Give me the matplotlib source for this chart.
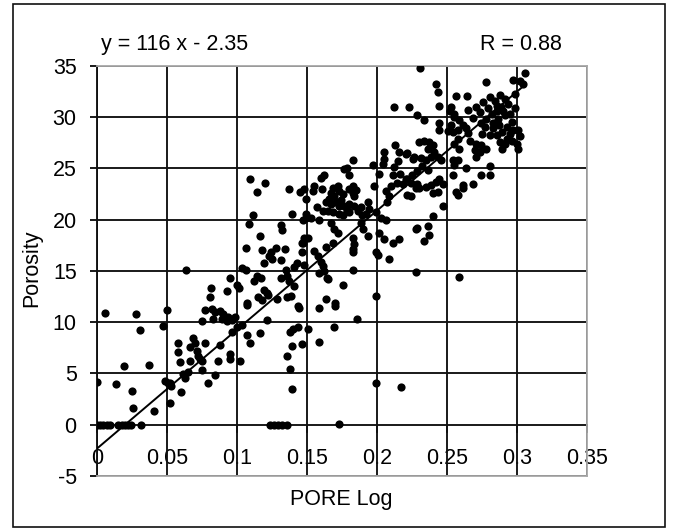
import numpy as np
import matplotlib
matplotlib.use("Agg")
import matplotlib.pyplot as plt
from matplotlib.patches import Rectangle

plt.rcParams['font.family'] = ['Liberation Sans', 'DejaVu Sans']
plt.rcParams['axes.unicode_minus'] = False

# ---------------- data ----------------
x_ticks = [0, 0.05, 0.1, 0.15, 0.2, 0.25, 0.3, 0.35]
x_tick_labels = ['0', '0.05', '0.1', '0.15', '0.2', '0.25', '0.3', '0.35']
y_ticks = [-5, 0, 5, 10, 15, 20, 25, 30, 35]
slope = 116
intercept = -2.35
r_value = 0.88
fit_x = [0.0, 0.305]

pts_left = [(0.000, 4.15), (0.000, 0), (0.0024, 0), (0.0048, 0), (0.0071, 0), (0.0095, 0),
            (0.006, 10.9), (0.0136, 4.0), (0.0155, 0), (0.0179, 0), (0.0202, 0), (0.0226, 0),
            (0.0245, 0), (0.0198, 5.7), (0.0255, 3.3), (0.0262, 1.6), (0.0278, 10.8), (0.031, 9.2),
            (0.0317, 0), (0.0374, 5.8), (0.0412, 1.3), (0.0476, 9.6), (0.05, 11.2), (0.0488, 4.3),
            (0.0512, 4.1), (0.053, 3.8), (0.0526, 2.1), (0.0524, 4.1), (0.0583, 8.0), (0.0583, 7.05),
            (0.0595, 6.1), (0.0602, 3.2)]

pts_low = [(0.0636, 15.05), (0.0619, 4.9), (0.0655, 5.1), (0.0631, 4.6), (0.0667, 6.2), (0.069, 8.5),
           (0.0702, 8.0), (0.0667, 7.55), (0.0714, 7.2), (0.0726, 6.7), (0.0738, 6.4), (0.075, 6.2),
           (0.0774, 8.0), (0.075, 5.3), (0.0845, 4.8), (0.0798, 4.1), (0.075, 10.1), (0.0774, 11.2),
           (0.0822, 11.3), (0.0845, 11.0), (0.0881, 11.1), (0.0905, 10.8), (0.094, 10.5), (0.0964, 10.2),
           (0.0833, 10.3), (0.0893, 10.3), (0.0929, 10.15), (0.0988, 10.5), (0.081, 12.45), (0.0819, 13.3),
           (0.0933, 13.0), (0.0952, 14.3), (0.0869, 6.2), (0.0952, 6.9), (0.0952, 6.4), (0.1024, 6.2),
           (0.088, 7.8), (0.0964, 9.0), (0.1, 9.5), (0.1036, 9.7), (0.1, 13.6), (0.1017, 13.3)]

pts_mid_low = [(0.1071, 11.9), (0.1155, 12.45), (0.1226, 12.6), (0.1357, 12.45), (0.144, 11.6),
               (0.1214, 10.2), (0.1071, 8.7), (0.1095, 8.0), (0.1167, 8.9), (0.1381, 9.0), (0.1405, 9.35),
               (0.144, 9.5), (0.1393, 7.7), (0.1464, 7.9), (0.1357, 6.7), (0.1381, 5.4), (0.1393, 3.5),
               (0.1238, 0), (0.1268, 0), (0.1298, 0), (0.1327, 0), (0.1357, 0), (0.1041, 15.3),
               (0.1064, 15.1), (0.1148, 14.5), (0.1171, 14.3), (0.1124, 14.0), (0.1195, 13.15),
               (0.1219, 12.8), (0.1183, 12.2), (0.129, 12.3), (0.1076, 11.7), (0.1445, 11.4), (0.135, 15.1),
               (0.1362, 14.5), (0.1374, 14.0), (0.1314, 14.3), (0.1409, 13.5), (0.1386, 12.5),
               (0.1409, 15.4), (0.1433, 15.8), (0.1195, 15.8), (0.1512, 9.35), (0.1483, 15.6)]

pts_mid_high = [(0.1095, 23.95), (0.12, 23.6), (0.1148, 22.7), (0.1374, 23.0), (0.1452, 22.7),
                (0.1493, 22.05), (0.1397, 20.5), (0.1493, 20.2), (0.1119, 20.4), (0.1088, 19.6),
                (0.1314, 19.5), (0.1326, 19.0), (0.1164, 18.4), (0.1481, 18.2), (0.1469, 17.7),
                (0.1064, 17.25), (0.1183, 17.0), (0.1243, 16.8), (0.1279, 17.25), (0.1343, 17.15),
                (0.1255, 16.2), (0.1314, 16.1), (0.1231, 16.4), (0.1464, 16.8), (0.1471, 20.0),
                (0.1495, 20.5), (0.1483, 23.0), (0.1507, 18.2), (0.1471, 17.7)]

pts_center = [(0.1531, 20.2), (0.159, 20.0), (0.1602, 24.1), (0.1626, 24.3), (0.1555, 23.3), (0.1543, 22.8),
              (0.1686, 23.1), (0.1721, 23.3), (0.1733, 22.8), (0.1757, 22.5), (0.1698, 22.3), (0.1674, 22.6),
              (0.1828, 23.3), (0.1828, 22.6), (0.184, 22.3), (0.1983, 23.3), (0.1828, 25.85), (0.1769, 24.9),
              (0.1805, 24.3), (0.2019, 24.45), (0.1971, 25.3), (0.1638, 21.7), (0.1674, 21.5), (0.1709, 21.7),
              (0.1733, 21.3), (0.1769, 21.3), (0.1805, 21.5), (0.184, 21.3), (0.1864, 20.8), (0.1888, 21.2),
              (0.1936, 21.7), (0.1947, 21.0), (0.1614, 20.85), (0.165, 20.85), (0.1686, 20.7), (0.1733, 20.5),
              (0.1757, 20.4), (0.1805, 20.7), (0.1898, 20.4), (0.1924, 20.5), (0.1995, 20.7), (0.1888, 19.7),
              (0.19, 19.05), (0.1674, 19.7), (0.1698, 19.05), (0.1721, 18.7), (0.1828, 18.2), (0.184, 17.6),
              (0.1828, 17.1), (0.1936, 18.4), (0.1686, 17.7), (0.164, 17.3), (0.1555, 16.9), (0.1579, 16.4),
              (0.1602, 15.9), (0.1614, 15.5), (0.1626, 15.0), (0.165, 14.2), (0.1828, 16.8), (0.1828, 15.1),
              (0.1757, 13.65), (0.1638, 12.3), (0.1585, 14.8), (0.1645, 14.3), (0.1585, 11.4), (0.1705, 11.9),
              (0.1705, 11.6), (0.1862, 10.3), (0.1995, 12.5), (0.1995, 16.8), (0.1693, 9.5), (0.1585, 8.1),
              (0.1995, 4.1), (0.173, 0.1), (0.1785, 25.0), (0.18, 23.0), (0.1662, 22.0), (0.1745, 21.9),
              (0.1785, 20.9), (0.1852, 22.9), (0.1572, 21.2), (0.1612, 23.0)]

pts_upper = [(0.2031, 20.2), (0.2067, 20.0), (0.2019, 18.7), (0.2055, 18.1), (0.2114, 17.7), (0.2162, 18.1),
             (0.2007, 16.5), (0.209, 16.2), (0.2171, 3.65), (0.228, 19.05), (0.228, 14.9), (0.2126, 31.0),
             (0.2228, 31.0), (0.2286, 30.2), (0.2133, 27.3), (0.2055, 26.6), (0.2055, 25.9), (0.2162, 26.6),
             (0.2209, 26.4), (0.2257, 25.9), (0.2152, 25.75), (0.2126, 25.1), (0.2119, 24.3), (0.2167, 24.45),
             (0.2209, 23.95), (0.2143, 23.6), (0.2102, 23.3), (0.2186, 23.5), (0.2245, 23.6), (0.228, 23.1),
             (0.2043, 25.4), (0.2067, 22.8), (0.209, 22.3), (0.2071, 21.7), (0.2308, 34.8), (0.2423, 33.2),
             (0.2435, 32.4), (0.234, 29.7), (0.2447, 31.1), (0.2447, 29.4), (0.2447, 28.7), (0.2219, 26.45),
             (0.2267, 26.1), (0.2315, 26.0), (0.2351, 25.8), (0.2303, 27.6), (0.234, 27.7), (0.2375, 27.6),
             (0.24, 27.3), (0.2363, 26.9), (0.2411, 26.6), (0.2435, 26.1), (0.246, 25.8), (0.2387, 26.1),
             (0.2219, 24.0), (0.2255, 24.35), (0.229, 24.7), (0.2327, 25.2), (0.2363, 24.8), (0.229, 23.5),
             (0.2303, 23.1), (0.2351, 23.2), (0.2387, 23.4), (0.2423, 23.7), (0.2447, 24.0), (0.2435, 22.7),
             (0.2399, 22.6), (0.2471, 23.5), (0.2219, 22.4), (0.2243, 22.3), (0.2471, 21.3), (0.24, 20.3),
             (0.2363, 19.35), (0.2375, 18.5), (0.234, 17.9), (0.2286, 19.2)]

pts_right = [(0.2567, 32.0), (0.2644, 32.0), (0.2779, 33.45), (0.2976, 33.6), (0.3024, 33.5), (0.306, 34.3),
             (0.3048, 33.2), (0.2531, 31.0), (0.2555, 30.3), (0.252, 30.6), (0.2555, 30.0), (0.259, 29.7),
             (0.2615, 29.2), (0.264, 28.9), (0.258, 28.7), (0.253, 29.2), (0.2543, 28.5), (0.265, 28.4),
             (0.2507, 28.6), (0.2711, 31.0), (0.276, 31.5), (0.2808, 31.9), (0.2844, 31.6), (0.288, 32.1),
             (0.2916, 31.8), (0.294, 31.3), (0.289, 31.0), (0.2856, 30.6), (0.282, 30.3), (0.2784, 29.8),
             (0.2748, 29.4), (0.2772, 29.0), (0.2832, 29.4), (0.2868, 29.8), (0.2916, 30.2), (0.2952, 30.3),
             (0.2964, 29.5), (0.2928, 29.0), (0.2892, 28.5), (0.2856, 28.2), (0.2808, 28.2), (0.2976, 28.7),
             (0.3012, 28.7), (0.3024, 28.1), (0.3, 27.4), (0.3012, 26.9), (0.2964, 27.7), (0.2916, 27.4),
             (0.2892, 26.9), (0.2928, 27.9), (0.288, 27.6), (0.2711, 27.4), (0.2699, 26.8), (0.2711, 26.1),
             (0.2748, 27.3), (0.2784, 26.9), (0.2736, 26.6), (0.2663, 27.7), (0.258, 27.9), (0.2555, 27.4),
             (0.259, 26.9), (0.2543, 25.8), (0.258, 25.8), (0.2555, 25.3), (0.264, 25.0), (0.2543, 24.35),
             (0.2615, 23.1), (0.2567, 22.7), (0.2688, 23.5), (0.2748, 24.35), (0.2808, 24.35), (0.2808, 25.2),
             (0.258, 22.4), (0.2591, 14.4), (0.2615, 23.4), (0.2735, 30.5), (0.2795, 30.9), (0.2862, 31.1),
             (0.2905, 30.6), (0.2985, 30.9), (0.2832, 28.9), (0.2875, 29.2), (0.2688, 29.9), (0.2652, 30.7),
             (0.2952, 28.3), (0.2985, 32.2), (0.2755, 28.3)]

groups = [pts_left, pts_low, pts_mid_low, pts_mid_high, pts_center, pts_upper, pts_right]
pts = np.array([p for g in groups for p in g])
pore_log = pts[:, 0]
porosity = pts[:, 1]

# ---------------- figure ----------------
W, H = 675, 531
fig = plt.figure(figsize=(W / 100, H / 100), dpi=100)
fig.patch.set_facecolor('white')
ax = fig.add_axes([96.7 / W, 1 - 476 / H, 490 / W, 410.3 / H])

ax.set_xlim(0, 0.35)
ax.set_ylim(-5, 35)
ax.set_xticks(x_ticks)
ax.set_yticks(y_ticks)
ax.set_axisbelow(True)
ax.grid(True, color='#111111', lw=1.35)

ax.tick_params(axis='x', length=0, labelbottom=False)
ax.tick_params(axis='y', length=5.0, width=1.35, pad=9.4, labelsize=15.5, color='#111111')

for s in ['top', 'right', 'bottom']:
    ax.spines[s].set_color('#a8a8a8')
    ax.spines[s].set_linewidth(1.3)
ax.spines['left'].set_color('#111111')
ax.spines['left'].set_linewidth(1.35)

# x tick marks crossing at y = 0 and labels
for xt, lab in zip(x_ticks, x_tick_labels):
    ax.plot([xt, xt], [0, -0.68], color='#111111', lw=1.35, clip_on=False, zorder=1)
    ax.text(xt, -3.25, lab, ha='center', va='center', fontsize=15.5, zorder=0)

# scatter
ax.plot(pore_log, porosity, 'o', color='black', markersize=5.9, markeredgewidth=0, zorder=3)

# regression line
fx = np.array(fit_x)
ax.plot(fx, slope * fx + intercept, color='black', lw=1.4, zorder=4)

# texts
fig.text(32 / W, 1 - 268.5 / H, 'Porosity', rotation=90, ha='center', va='center', fontsize=15.5)
fig.text(341 / W, 1 - 500 / H, 'PORE Log', ha='center', va='center', fontsize=15.5)
fig.text(101 / W, 1 - 50 / H, f'y = {slope:g} x - {abs(intercept):g}', ha='left', va='baseline', fontsize=15.5)
fig.text(562 / W, 1 - 50 / H, f'R = {r_value:.2f}', ha='right', va='baseline', fontsize=15.5)

# outer chart border
fig.patches.append(Rectangle((13 / W, 4 / H), (665 - 13) / W, (527 - 4) / H,
                             transform=fig.transFigure, fill=False, ec='#111111', lw=1.2))

fig.savefig('out.png', dpi=100)
